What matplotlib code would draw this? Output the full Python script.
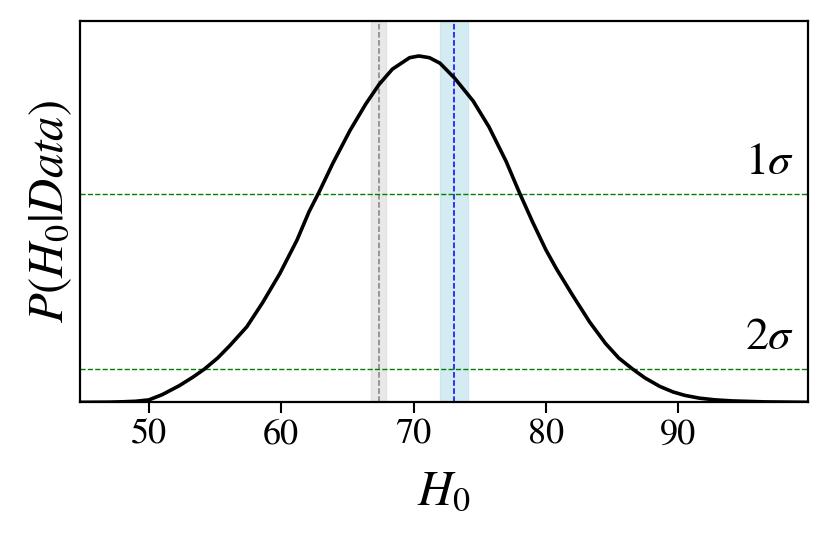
import matplotlib
matplotlib.use("Agg")
import matplotlib.pyplot as plt
import numpy as np

plt.rcParams['font.family'] = ['STIXGeneral', 'DejaVu Serif']
plt.rcParams['mathtext.fontset'] = 'stix'

# posterior (normalised to peak = 1)
h0 = [45, 47, 48, 49, 50, 51, 52.3, 53.3, 54.2, 55.2, 56.1, 57.4, 58.6, 59.9,
      61.2, 62.1, 62.9, 63.9, 65.2, 66.4, 67.4, 68.4, 69.7, 70.4, 71.2, 72.0,
      73.1, 74.5, 75.7, 77.0, 78.0, 79.0, 80.0, 80.8, 82.0, 83.3, 84.5, 85.5,
      86.55, 87.5, 88.6, 89.6, 90.5, 91.6, 92.8, 94.1, 96.6, 99.8]
post = [0.0, 0.0005, 0.0015, 0.003, 0.007, 0.022, 0.048, 0.072, 0.096, 0.128,
        0.163, 0.218, 0.288, 0.372, 0.469, 0.55, 0.61, 0.69, 0.785, 0.862,
        0.918, 0.962, 0.995, 1.0, 0.995, 0.979, 0.936, 0.870, 0.795, 0.695,
        0.605, 0.52, 0.44, 0.385, 0.31, 0.232, 0.17, 0.128, 0.096, 0.07,
        0.046, 0.03, 0.02, 0.012, 0.007, 0.004, 0.0012, 0.0]

planck = (67.36, 0.54)
shoes = (73.04, 1.04)
levels = [0.601, 0.0962]
level_names = [r'$1\sigma$', r'$2\sigma$']

fig, ax = plt.subplots(figsize=(8.3, 5.45), dpi=100)
fig.subplots_adjust(left=0.0964, right=0.9735, top=0.9615, bottom=0.2618)

ax.axvspan(planck[0] - planck[1], planck[0] + planck[1], color='lightgray', alpha=0.5)
ax.axvspan(shoes[0] - shoes[1], shoes[0] + shoes[1], color='lightblue', alpha=0.5)
ax.axvline(planck[0], color='gray', ls='--', lw=1.1)
ax.axvline(shoes[0], color='b', ls='--', lw=1.1)

for lev in levels:
    ax.axhline(lev, color='green', ls='--', lw=1.0)
ax.text(98.8, levels[0] + 0.03, level_names[0], ha='right', va='bottom', fontsize=33)
ax.text(98.8, levels[1] + 0.03, level_names[1], ha='right', va='bottom', fontsize=33)

ax.plot(h0, post, color='k', lw=2.6, solid_joinstyle='round')

ax.set_xlim(44.8, 99.8)
ax.set_ylim(0, 1.101)
ax.set_yticks([])
ax.set_xticks([50, 60, 70, 80, 90])
ax.tick_params(axis='x', labelsize=26, length=8, width=1.5)
for s in ax.spines.values():
    s.set_linewidth(1.6)

ax.set_xlabel(r'$H_0$', fontsize=35, labelpad=14)
ax.set_ylabel(r'$P(H_0|Data)$', fontsize=35, labelpad=4)

fig.savefig('out.png', dpi=100)
